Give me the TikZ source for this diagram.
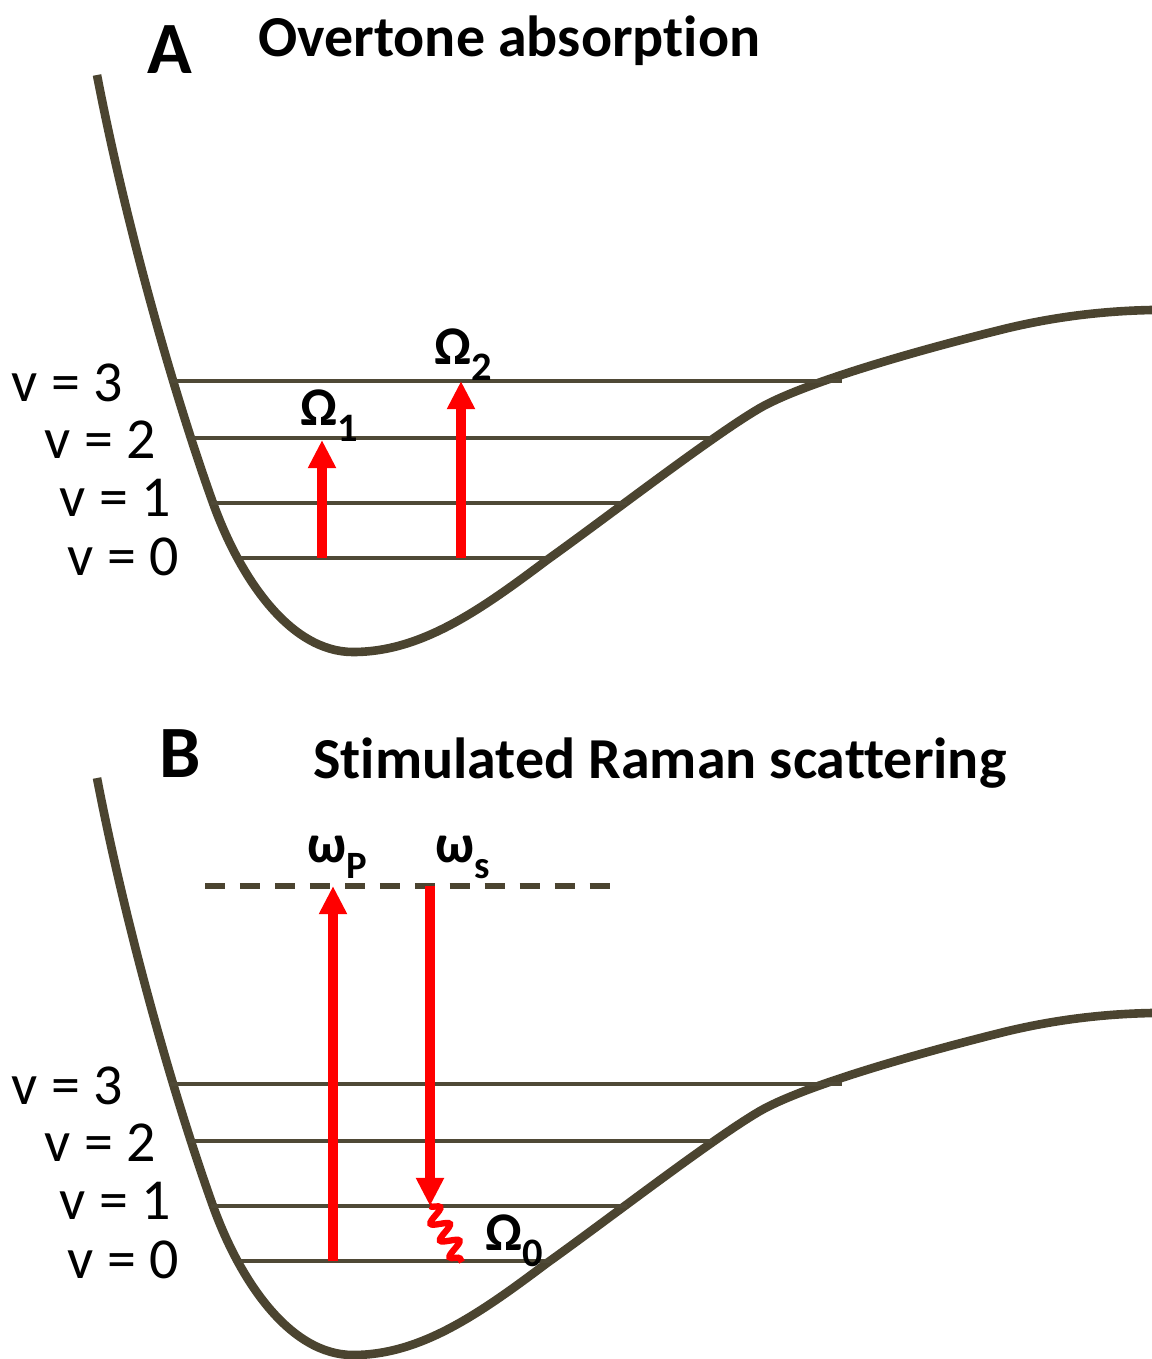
\documentclass[tikz,border=0pt]{standalone}
\usepackage{fontspec}
\setmainfont[Ligatures=NoCommon]{Carlito}
\usetikzlibrary{arrows.meta,decorations.pathmorphing}
\definecolor{wellc}{HTML}{4B4430}
\definecolor{lvlc}{HTML}{4F4936}
\begin{document}
\begin{tikzpicture}[x=0.02cm,y=-0.02cm,
  wellcurve/.style={draw=wellc,line width=4.9pt},
  level/.style={draw=lvlc,line width=2.4pt},
  photon/.style={draw=red,line width=5.7pt,-{Triangle[width=15pt,length=16pt]}},
  lvllbl/.style={font=\fontsize{33}{33}\selectfont,inner sep=0pt,anchor=east},
  glbl/.style={font=\bfseries\fontsize{31}{31}\selectfont,inner sep=0pt,anchor=base west},
  ttl/.style={font=\bfseries\fontsize{33}{33}\selectfont,inner sep=0pt,anchor=base west},
  panel/.style={font=\bfseries\fontsize{42}{42}\selectfont,inner sep=0pt,anchor=base west},
  wave/.style={draw=red,line width=3.6pt,decorate,decoration={snake,amplitude=4.8pt,segment length=11pt}},
  dashline/.style={draw=wellc,line width=3pt,dash pattern=on 11.4pt off 8.5pt}
]
\useasboundingbox (0,0) rectangle (1152,1359);

\foreach \o/\p in {0/A,703/B}{
  \begin{scope}[shift={(0,\o)}]
    \draw[wellcurve] (97,75) .. controls (124,215) and (170,383) .. (213,503)
      .. controls (240,578) and (290,652) .. (353,652)
      .. controls (420,652) and (478,612) .. (547,560)
      .. controls (610,515) and (712,436) .. (760,408)
      .. controls (800,385) and (900,355) .. (1000,330)
      .. controls (1050,317.5) and (1100,311) .. (1152,310);
    \coordinate (\p3L) at (170,381); \coordinate (\p3R) at (842,381);
    \coordinate (\p2L) at (189,438); \coordinate (\p2R) at (712,438);
    \coordinate (\p1L) at (211,503); \coordinate (\p1R) at (627,503);
    \coordinate (\p0L) at (240,558); \coordinate (\p0R) at (550,558);
    \draw[level] (\p3L) -- (\p3R);
    \draw[level] (\p2L) -- (\p2R);
    \draw[level] (\p1L) -- (\p1R);
    \draw[level] (\p0L) -- (\p0R);
    \node[lvllbl] (\p l3) at (123,383) {v = 3};
    \node[lvllbl] (\p l2) at (156,440) {v = 2};
    \node[lvllbl] (\p l1) at (171,498) {v = 1};
    \node[lvllbl] (\p l0) at (179,557) {v = 0};
  \end{scope}
}

% Panel A
\node[panel] (pA) at (147,73) {A};
\node[ttl] (tA) at (258,56) {Overtone absorption};
\coordinate (a1s) at (322,558); \coordinate (a1e) at (322,440);
\coordinate (a2s) at (461,558); \coordinate (a2e) at (461,381);
\draw[photon] (a1s) -- (a1e);
\draw[photon] (a2s) -- (a2e);
\node[glbl] (O1) at (300,425) {Ω\raisebox{-0.3em}{\fontsize{23}{23}\selectfont 1}};
\node[glbl] (O2) at (434,364) {Ω\raisebox{-0.3em}{\fontsize{23}{23}\selectfont 2}};

% Panel B
\node[panel] (pB) at (159,777) {B};
\node[ttl] (tB) at (313,778) {Stimulated Raman scattering};
\coordinate (dL) at (205,886); \coordinate (dR) at (614,886);
\draw[dashline] (dL) -- (dR);
\coordinate (bps) at (333,1261); \coordinate (bpe) at (333,886);
\coordinate (bss) at (430,886); \coordinate (bse) at (430,1206);
\coordinate (ws) at (430,1206); \coordinate (we) at (462,1262);
\draw[photon] (bps) -- (bpe);
\draw[photon] (bss) -- (bse);
\draw[wave] (ws) -- (we);
\node[glbl] (wP) at (307,862) {ω\raisebox{-0.3em}{\fontsize{22}{22}\selectfont P}};
\node[glbl] (wS) at (435,862) {ω\raisebox{-0.3em}{\fontsize{22}{22}\selectfont s}};
\node[glbl] (O0) at (485,1250) {Ω\raisebox{-0.3em}{\fontsize{23}{23}\selectfont 0}};
\end{tikzpicture}
\end{document}
